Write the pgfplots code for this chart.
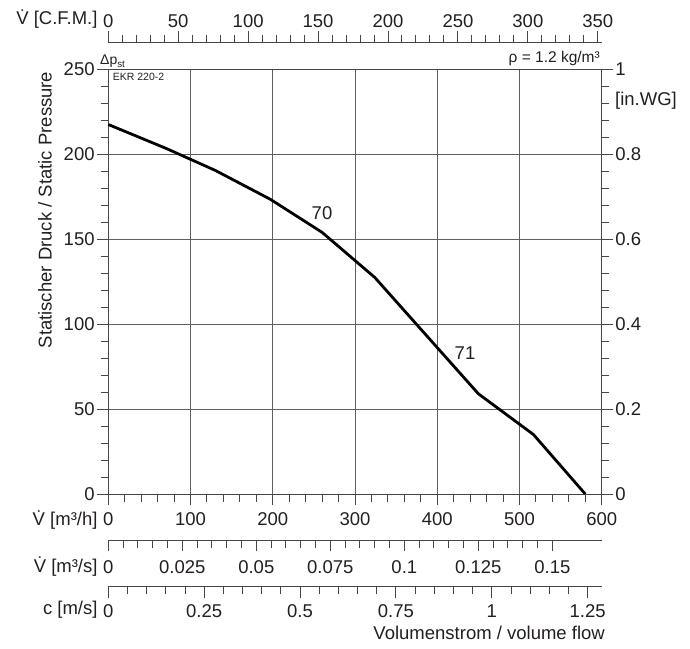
\documentclass[border=0pt]{standalone}
\usepackage{fontspec}
\setmainfont{Liberation Sans}
\usepackage{pgfplots}
\pgfplotsset{compat=1.18}

\definecolor{txt}{RGB}{35,31,32}
\definecolor{axc}{RGB}{70,70,70}
\definecolor{grd}{RGB}{95,95,95}
\newcommand\tf{\fontsize{18.5pt}{22pt}\selectfont}
\newcommand\Vdot{V̇}

\pgfplotsset{
  base/.style={
    scale only axis, width=493.4pt,
    axis line style={draw=axc, line width=1pt},
    tick style={draw=axc, line width=1pt},
    major tick length=11pt, minor tick length=7.5pt,
    tick align=outside,
    ticklabel style={font=\tf, text=txt},
  },
  strip/.style={base, height=10pt, ymin=0, ymax=1, hide y axis, minor x tick num=4},
}

% pressure curve, Pa over m3/h
\pgfplotstableread{
q    dp
0    217.5
70   203.5
130  190.5
197  173.5
260  154
324  127.5
450  59
517  35
580  0
}\curve

\begin{document}
\begin{tikzpicture}
\useasboundingbox (-108.3pt,-154pt) rectangle (581.7pt,494pt);

\begin{axis}[base, height=424.7pt,
  xmin=0, xmax=600, ymin=0, ymax=250,
  xtick={0,100,200,300,400,500,600},
  xticklabels={0,100,200,300,400,500,600},
  ytick={0,50,100,150,200,250},
  yticklabels={0,50,100,150,200,250},
  minor x tick num=4, minor y tick num=4,
  tick pos=left,
  grid=major, grid style={draw=grd, line width=0.9pt},
  xticklabel style={inner sep=7.5pt},
  yticklabel style={inner sep=2.5pt},
  clip=false]
  \addplot[black, line width=2.8pt, line join=round] table[x=q, y=dp] {\curve};
  \node[font=\tf, text=txt] at (axis cs:259.9,165.4) {70};
  \node[font=\tf, text=txt] at (axis cs:433.8,83) {71};
\end{axis}

% right axis, in.WG
\begin{axis}[base, height=424.7pt,
  xmin=0, xmax=600, ymin=0, ymax=1,
  hide x axis, axis y line*=right,
  ytick={0,0.2,0.4,0.6,0.8,1},
  yticklabels={0,0.2,0.4,0.6,0.8,1},
  minor y tick num=4,
  yticklabel style={inner sep=2.5pt}]
\end{axis}

% top axis, CFM
\begin{axis}[strip, at={(0,441.7pt)},
  xmin=0, xmax=352.8, axis x line*=top,
  xtick={0,50,100,150,200,250,300,350},
  xticklabels={0,50,100,150,200,250,300,350},
  xticklabel style={inner sep=3.5pt}]
\end{axis}

% m3/s
\begin{axis}[strip, at={(0,-46pt)},
  xmin=0, xmax=0.166667, axis x line*=bottom,
  xtick={0,0.025,0.05,0.075,0.1,0.125,0.15},
  xticklabels={0,0.025,0.05,0.075,0.1,0.125,0.15},
  xticklabel style={inner sep=9.5pt}]
\end{axis}

% c m/s
\begin{axis}[strip, at={(0,-92.7pt)},
  xmin=0, xmax=1.2865, axis x line*=bottom,
  xtick={0,0.25,0.5,0.75,1,1.25},
  xticklabels={0,0.25,0.5,0.75,1,1.25},
  xticklabel style={inner sep=6.5pt}]
\end{axis}

\begin{scope}[every node/.style={font=\tf, text=txt, inner sep=0pt}]
  \node[anchor=east] at (-10.6pt,475pt) {\Vdot\ [C.F.M.]};
  \node[anchor=east] at (-10.6pt,-26pt) {\Vdot\ [m³/h]};
  \node[anchor=east] at (-10.6pt,-72.7pt) {\Vdot\ [m³/s]};
  \node[anchor=east] at (-10.6pt,-116pt) {c [m/s]};
  \node[anchor=east] at (496.7pt,-139.3pt) {Volumenstrom / volume flow};
  \node[rotate=90] at (-63.3pt,284pt) {Statischer Druck / Static Pressure};
  \node[anchor=west] at (506.7pt,393pt) {[in.WG]};
  \node[anchor=base west, font=\fontsize{14pt}{16pt}\selectfont] at (-8.3pt,429pt) {Δp\textsubscript{st}};
  \node[anchor=base east, font=\fontsize{15.5pt}{18pt}\selectfont] at (491.7pt,431pt) {ρ = 1.2 kg/m³};
  \node[anchor=west, font=\fontsize{10.5pt}{12pt}\selectfont] at (4.4pt,416.7pt) {EKR 220-2};
\end{scope}
\end{tikzpicture}
\end{document}
